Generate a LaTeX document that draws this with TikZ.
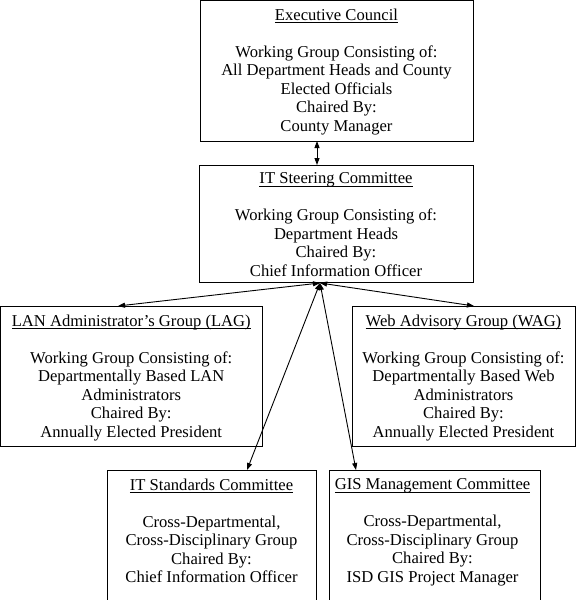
\documentclass[tikz,border=0pt]{standalone}
\usepackage{fontspec}
\setmainfont{Liberation Serif}
\usetikzlibrary{arrows.meta}
\newcommand\myul[1]{\setbox0\hbox{#1}\rlap{\rule[-3pt]{\wd0}{0.8pt}}\box0}
\tikzset{
  box/.style={draw, line width=1pt, rectangle, anchor=north west, inner sep=0pt, outer sep=0pt},
  txt/.style={anchor=north, align=center, inner sep=0pt, font=\fontsize{16.6}{18.5}\selectfont},
  link/.style={line width=0.9pt, {Triangle[length=7pt,width=5pt]}-{Triangle[length=7pt,width=5pt]}, shorten <=0pt, shorten >=0pt}
}
\begin{document}
\begin{tikzpicture}[x=1pt,y=-1pt]
\useasboundingbox (0,0) rectangle (576,600);
\clip (0,0) rectangle (576,600);
% boxes
\node[box, minimum width=273pt, minimum height=140.5pt] (exec) at (200,0.5) {};
\node[box, minimum width=274pt, minimum height=117pt] (itsc) at (199,165) {};
\node[box, minimum width=261.5pt, minimum height=140pt] (lan) at (0.5,306) {};
\node[box, minimum width=223pt, minimum height=140pt] (wag) at (352,306) {};
\node[box, minimum width=209pt, minimum height=160pt] (its) at (107,470) {};
\node[box, minimum width=211pt, minimum height=160pt] (gis) at (329,470) {};
% texts
\node[txt] (execT) at ([yshift=-8pt]exec.north) {\myul{Executive Council}\\[18.5pt]Working Group Consisting of:\\All Department Heads and County\\Elected Officials\\Chaired By:\\County Manager};
\node[txt] (itscT) at ([yshift=-7.5pt]itsc.north) {\myul{IT Steering Committee}\\[18.5pt]Working Group Consisting of:\\Department Heads\\Chaired By:\\Chief Information Officer};
\node[txt] (lanT) at ([yshift=-8.5pt]lan.north) {\myul{LAN Administrator's Group (LAG)}\\[18.5pt]Working Group Consisting of:\\Departmentally Based LAN\\Administrators\\Chaired By:\\Annually Elected President};
\node[txt] (wagT) at ([yshift=-8.5pt]wag.north) {\myul{Web Advisory Group (WAG)}\\[18.5pt]Working Group Consisting of:\\Departmentally Based Web\\Administrators\\Chaired By:\\Annually Elected President};
\node[txt] (itsT) at ([yshift=-8.5pt]its.north) {\myul{IT Standards Committee}\\[18.5pt]Cross-Departmental,\\Cross-Disciplinary Group\\Chaired By:\\Chief Information Officer};
\node[txt] (gisT) at ([xshift=-2pt,yshift=-8.5pt]gis.north) {\myul{GIS Management Committee}\\[18.5pt]Cross-Departmental,\\Cross-Disciplinary Group\\Chaired By:\\ISD GIS Project Manager};
% connection points
\coordinate (execB) at (317,141);
\coordinate (itscTop) at (317,165);
\coordinate (hub) at (320,283);
\coordinate (lanTop) at (118,306);
\coordinate (wagTop) at (474,306);
\coordinate (itsTop) at (247,470);
\coordinate (gisTop) at (356,470);
% connectors
\draw[link] (execB) -- (itscTop);
\draw[link] (hub) -- (lanTop);
\draw[link] (hub) -- (wagTop);
\draw[link] (hub) -- (itsTop);
\draw[link] (hub) -- (gisTop);
\end{tikzpicture}
\end{document}
